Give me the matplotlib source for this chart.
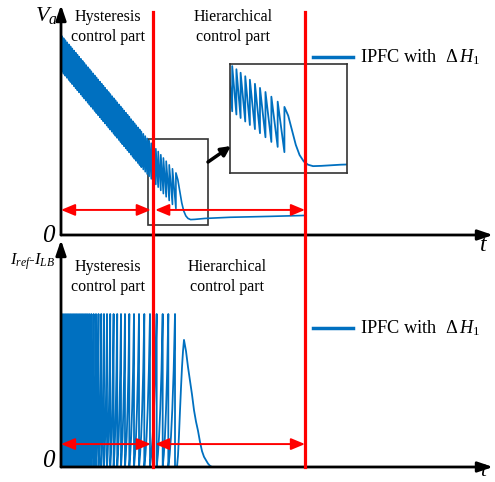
import numpy as np
import matplotlib
matplotlib.use("Agg")
import matplotlib.pyplot as plt
from matplotlib.lines import Line2D
from matplotlib.patches import Rectangle, FancyArrowPatch
from matplotlib.transforms import blended_transform_factory

plt.rcParams['font.family'] = ['Liberation Serif', 'DejaVu Serif']
plt.rcParams['mathtext.fontset'] = 'custom'
plt.rcParams['mathtext.rm'] = 'Liberation Serif'
plt.rcParams['mathtext.it'] = 'Liberation Serif:italic'
plt.rcParams['path.simplify'] = False

# ---------------- data (t axis 0..100, amplitude axis 0..100) ----------------
# Va: switching instants and the peak value reached at each one
VA_SW = [0.2, 0.6, 1.0, 1.4, 1.8, 2.2, 2.6, 3.0, 3.4, 3.8, 4.2, 4.6, 5.0, 5.4, 5.8,
         6.2, 6.6, 7.0, 7.4, 7.8, 8.2, 8.6, 9.0, 9.4, 9.8, 10.2, 10.6, 11.0, 11.4,
         11.8, 12.2, 12.6, 13.0, 13.4, 13.8, 14.2, 14.6, 15.0, 15.4, 15.8, 16.2,
         16.6, 17.0, 17.4, 17.8, 18.2, 18.6, 19.05, 19.5, 19.95, 20.4, 20.9, 21.4,
         21.95, 22.5, 23.1, 23.7, 24.35, 25.05, 25.8, 26.6]
VA_PEAK = [86.5, 85.6, 84.7, 83.8, 82.9, 82.0, 81.1, 80.2, 79.3, 78.4, 77.5, 76.6,
           75.7, 74.8, 73.9, 73.0, 72.1, 71.2, 70.3, 69.4, 68.5, 67.6, 66.7, 65.8,
           64.9, 64.0, 63.1, 62.2, 61.3, 60.4, 59.5, 58.6, 57.7, 56.8, 55.9, 55.0,
           54.1, 53.2, 52.3, 51.4, 50.4, 49.5, 48.6, 47.7, 46.8, 45.9, 45.0, 44.0,
           43.0, 42.0, 41.0, 39.9, 38.7, 37.5, 36.3, 34.9, 33.5, 32.1, 30.5, 28.8,
           27.0]
VA_RIPPLE = 15.5
VA_START = 87.0
# Va after the last switching (hierarchical control)
VA_TAIL_T = [27.05, 27.5, 27.95, 28.4, 28.9, 29.4, 30.0, 31.0, 33.3, 39.1, 48.4, 56.48]
VA_TAIL = [24.0, 19.0, 14.0, 10.5, 8.3, 7.2, 6.7, 6.8, 7.2, 7.7, 8.1, 8.5]

# Iref - ILB: switching instants (falling edges) of the current error
I_SW = [0.12, 0.46, 0.93, 1.39, 1.85, 2.31, 2.78, 3.24, 3.70, 4.17, 4.63, 5.09,
        5.56, 6.02, 6.50, 7.01, 7.55, 8.10, 8.68, 9.31, 9.95, 10.65, 11.39, 12.18,
        13.01, 13.89, 14.81, 15.81, 16.90, 18.06, 19.28, 20.60, 22.15, 23.54,
        24.84, 26.39]
I_TOP = 67.4
I_HUMP_T = [26.39, 26.85, 27.08, 27.31, 27.55, 27.78, 28.01, 28.24, 28.47, 28.94, 29.40,
            29.86, 30.32, 30.79, 31.25, 31.71, 32.18, 32.64, 33.10, 33.56, 34.03,
            34.49, 34.95, 56.48]
I_HUMP = [0, 0, 5, 14, 25, 35, 44, 51, 56, 51, 44, 38, 32, 25, 20, 16, 11, 7, 4.5,
          3, 1.5, 0.5, 0, 0]

T_BOUND = [21.30, 56.48]          # boundaries of the control parts
ZOOM_BOX = [20.14, 34.03, 4.35, 41.7]

BLUE = '#0070C0'
RED = '#FF0000'

# ---------------- build waveforms ----------------
va_t = [0.0]
va_v = [VA_START]
for s, hi in zip(VA_SW, VA_PEAK):
    va_t += [s, s]
    va_v += [hi - VA_RIPPLE, hi]
va_t += VA_TAIL_T
va_v += VA_TAIL

shape_u = [0.0, 0.2, 0.4, 0.6, 0.8, 1.0]
shape_f = [0.0, 0.08, 0.2, 0.38, 0.63, 1.0]
i_t = []
i_v = []
for a, b in zip(I_SW[:-1], I_SW[1:]):
    for u, f in zip(shape_u, shape_f):
        i_t.append(a + u * (b - a))
        i_v.append(f * I_TOP)
    i_t.append(b)
    i_v.append(0.0)
i_t += I_HUMP_T
i_v += I_HUMP

# ---------------- figure ----------------
W, H = 495, 482
fig = plt.figure(figsize=(W / 100, H / 100), dpi=100)


def fx(px):
    return px / W


def fy(py):
    return 1 - py / H


ax1 = fig.add_axes([fx(61), fy(235), 432 / W, 230 / H])
ax2 = fig.add_axes([fx(61), fy(467), 432 / W, 227 / H])
for ax in (ax1, ax2):
    ax.set_xlim(0, 100)
    ax.set_ylim(0, 100)
    ax.axis('off')
    for xy in [(1, 0), (0, 1)]:
        ax.annotate('', xy=xy, xytext=(0, 0), xycoords='axes fraction',
                    arrowprops=dict(arrowstyle='-|>,head_length=0.5,head_width=0.17',
                                    lw=2.0, color='k', shrinkA=0, shrinkB=0,
                                    mutation_scale=18), annotation_clip=False)

ax1.plot(va_t, va_v, color=BLUE, lw=1.2)
ax2.plot(i_t, i_v, color=BLUE, lw=1.3)

# zoom box and inset
ax1.add_patch(Rectangle((ZOOM_BOX[0], ZOOM_BOX[2]), ZOOM_BOX[1] - ZOOM_BOX[0],
                        ZOOM_BOX[3] - ZOOM_BOX[2], fill=False, ec='#333333', lw=1.2))
axin = fig.add_axes([fx(230), fy(173), 117 / W, 109 / H])
axin.plot(va_t, va_v, color=BLUE, lw=1.3)
axin.set_xlim(ZOOM_BOX[0], ZOOM_BOX[1])
axin.set_ylim(ZOOM_BOX[2], ZOOM_BOX[3])
axin.set_xticks([])
axin.set_yticks([])
for sp in axin.spines.values():
    sp.set_color('#333333')
    sp.set_linewidth(1.2)
fig.add_artist(FancyArrowPatch(posA=(fx(208), fy(162)), posB=(fx(231), fy(146)),
                               transform=fig.transFigure, arrowstyle='-|>',
                               mutation_scale=14, lw=2.5, color='k', shrinkA=0, shrinkB=0))

# red boundary lines across both panels
tr = blended_transform_factory(ax1.transData, fig.transFigure)
for tb in T_BOUND:
    fig.add_artist(Line2D([tb, tb], [fy(12), fy(467)], transform=tr, color=RED, lw=2.3,
                          zorder=10))

# red double arrows
for ax, yv in [(ax1, 10.9), (ax2, 10.1)]:
    for a, b in [(0.0, T_BOUND[0] - 0.5), (T_BOUND[0] + 0.5, T_BOUND[1])]:
        ax.annotate('', xy=(a, yv), xytext=(b, yv),
                    arrowprops=dict(arrowstyle='<|-|>,head_length=0.6,head_width=0.25',
                                    color=RED, lw=1.4, shrinkA=0, shrinkB=0,
                                    mutation_scale=14))

# texts
fs = 11.5
for y1, y2 in [(17, 37), (267, 287)]:
    fig.text(fx(108), fy(y1), 'Hysteresis', ha='center', va='center', fontsize=fs)
    fig.text(fx(108), fy(y2), 'control part', ha='center', va='center', fontsize=fs)
fig.text(fx(233), fy(17), 'Hierarchical', ha='center', va='center', fontsize=fs)
fig.text(fx(233), fy(37), 'control part', ha='center', va='center', fontsize=fs)
fig.text(fx(227), fy(267), 'Hierarchical', ha='center', va='center', fontsize=fs)
fig.text(fx(227), fy(287), 'control part', ha='center', va='center', fontsize=fs)

for yl in [57, 328]:
    fig.add_artist(Line2D([fx(313), fx(353)], [fy(yl), fy(yl)], color=BLUE, lw=2.5))
    fig.text(fx(360), fy(yl), r'IPFC with  $\Delta\,H_{\mathrm{1}}$', ha='left',
             va='center', fontsize=13.2)

fig.text(fx(46), fy(15), r'$V_a$', ha='center', va='center', fontsize=16)
fig.text(fx(33), fy(262), r'$I_{ref}$-$I_{LB}$', ha='center', va='center', fontsize=12)
fig.text(fx(48), fy(236), '0', style='italic', ha='center', va='center', fontsize=18)
fig.text(fx(48), fy(461), '0', style='italic', ha='center', va='center', fontsize=18)
fig.text(fx(484), fy(246), r'$t$', ha='center', va='center', fontsize=17)
fig.text(fx(484), fy(472), r'$t$', ha='center', va='center', fontsize=15)

fig.savefig('out.png', dpi=100)
